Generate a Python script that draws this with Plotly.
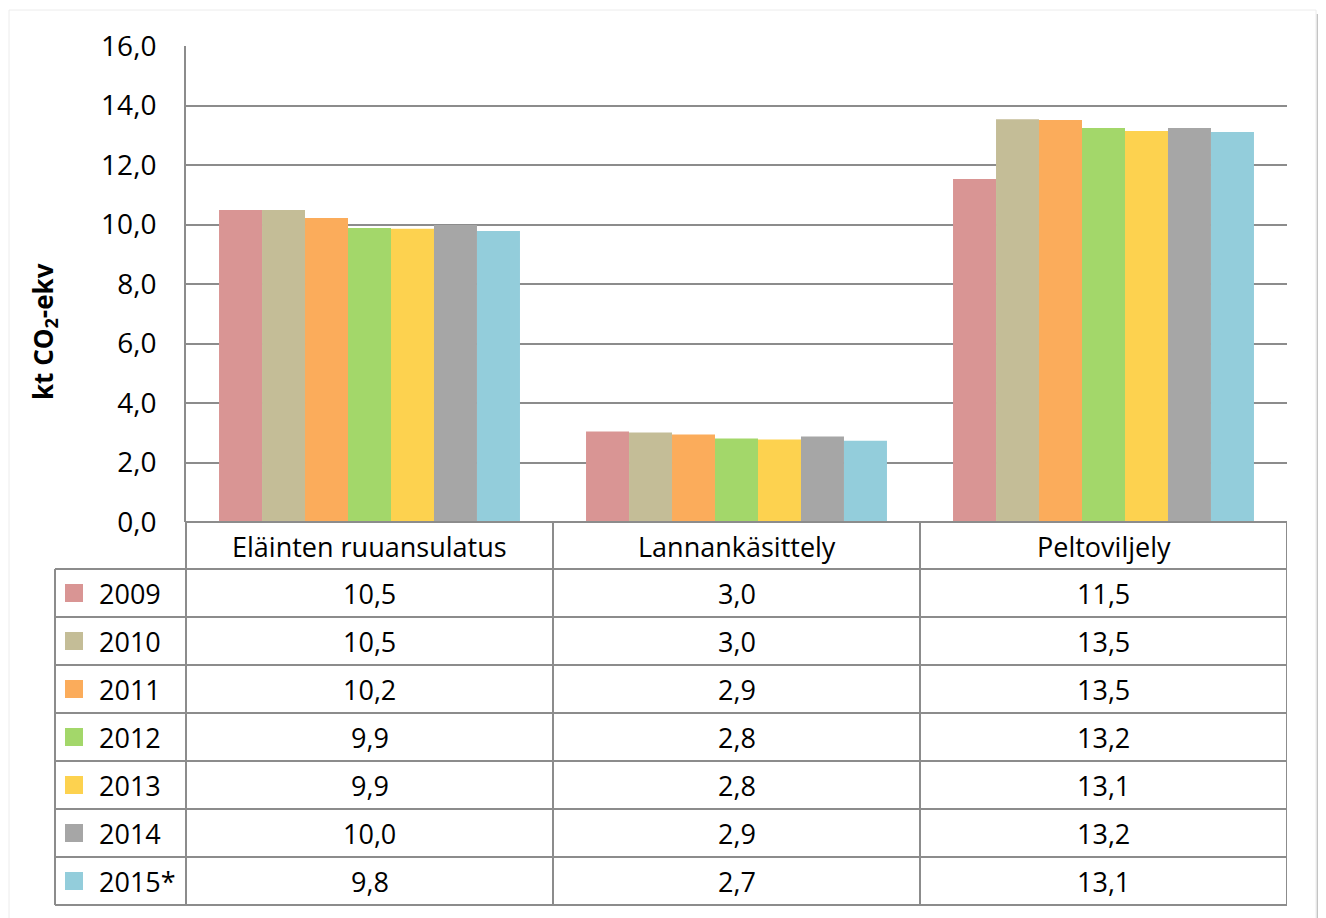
import plotly.graph_objects as go

categories = ["Eläinten ruuansulatus", "Lannankäsittely", "Peltoviljely"]
years = ["2009", "2010", "2011", "2012", "2013", "2014", "2015*"]
values = {
    "2009": [10.49, 3.04, 11.53],
    "2010": [10.49, 3.01, 13.54],
    "2011": [10.22, 2.94, 13.51],
    "2012": [9.88, 2.81, 13.24],
    "2013": [9.86, 2.77, 13.14],
    "2014": [9.98, 2.87, 13.24],
    "2015*": [9.78, 2.73, 13.11],
}
colors = ["#d99594", "#c4bd97", "#fbac5b", "#a3d76a", "#fdd24f", "#a6a6a6", "#93cddb"]
y_ticks = [0, 2, 4, 6, 8, 10, 12, 14, 16]

W, H = 1326, 918
OFF = 8                      # page body margin
PX_L, PX_R = 186, 1287       # plot area left/right (page pixels)
PX_T, PX_B = 46, 522         # plot area top/bottom (page pixels)
TAB_L = 55                   # table legend column left edge
ROW_H = 48
GRID = "#8c8c8c"
FONT = "Open Sans"
FS = 27

def px(x):
    return (x - OFF) / W

def py(y):
    return 1 - (y - OFF) / H

fig = go.Figure()
for yr, col in zip(years, colors):
    fig.add_trace(go.Bar(
        x=list(range(len(categories))), y=values[yr], name=yr,
        marker=dict(color=col, line=dict(width=0)),
        showlegend=False,
    ))

shapes = []
annotations = []

# outer chart border with soft shadow
shapes.append(dict(type="line", xref="paper", yref="paper",
                   x0=px(1319), x1=px(1319), y0=py(918), y1=py(14),
                   line=dict(color="#c4c4c4", width=5), layer="below"))
shapes.append(dict(type="rect", xref="paper", yref="paper",
                   x0=px(9), x1=px(1316), y0=py(930), y1=py(10),
                   line=dict(color="#ececec", width=1), fillcolor="white", layer="below"))

def hline(x0, x1, y, xref="paper"):
    shapes.append(dict(type="line", xref=xref, yref="paper", x0=x0, x1=x1,
                       y0=py(y), y1=py(y), line=dict(color=GRID, width=2)))

def vline(x, y0, y1, xref="paper"):
    shapes.append(dict(type="line", xref=xref, yref="paper", x0=x, x1=x,
                       y0=py(y0), y1=py(y1), line=dict(color=GRID, width=2)))

n_rows = len(years)
tab_top = PX_B
hdr_bot = PX_B + ROW_H - 1
tab_bot = hdr_bot + n_rows * ROW_H

# horizontal lines of table
hline(px(PX_L), px(PX_R), tab_top)
for i in range(n_rows + 1):
    hline(px(TAB_L), px(PX_R), hdr_bot + i * ROW_H)
# vertical lines
vline(px(TAB_L), hdr_bot, tab_bot)
vline(px(PX_L), tab_top, tab_bot)
for k in range(len(categories) + 1):
    vline(k - 0.5, tab_top, tab_bot, xref="x")

# header text
for k, c in enumerate(categories):
    annotations.append(dict(xref="x", yref="paper", x=k, y=py(tab_top + ROW_H / 2),
                            text=c, showarrow=False, xanchor="center", yanchor="middle",
                            font=dict(family=FONT, size=FS, color="black")))
# rows
for i, (yr, col) in enumerate(zip(years, colors)):
    yc = hdr_bot + i * ROW_H + ROW_H / 2
    shapes.append(dict(type="rect", xref="paper", yref="paper",
                       x0=px(65), x1=px(83), y0=py(yc + 9), y1=py(yc - 9),
                       fillcolor=col, line=dict(width=0)))
    annotations.append(dict(xref="paper", yref="paper", x=px(97), y=py(yc),
                            text=yr, showarrow=False, xanchor="left", yanchor="middle",
                            font=dict(family=FONT, size=FS, color="black")))
    for k in range(len(categories)):
        txt = f"{values[yr][k]:.1f}".replace(".", ",")
        annotations.append(dict(xref="x", yref="paper", x=k, y=py(yc),
                                text=txt, showarrow=False, xanchor="center", yanchor="middle",
                                font=dict(family=FONT, size=FS, color="black")))

# y axis title
annotations.append(dict(xref="paper", yref="paper", x=px(44), y=py(332),
                        text="<b>kt CO<sub>2</sub>-ekv</b>", textangle=-90, showarrow=False,
                        xanchor="center", yanchor="middle",
                        font=dict(family=FONT, size=26, color="black")))

fig.update_layout(
    width=W, height=H, autosize=False,
    margin=dict(l=0, r=0, t=0, b=0, pad=0),
    paper_bgcolor="white", plot_bgcolor="white",
    barmode="group", bargap=0.18, bargroupgap=0,
    separators=", ",
    shapes=shapes, annotations=annotations,
    xaxis=dict(domain=[px(PX_L), px(PX_R)], range=[-0.5, 2.5], showticklabels=False,
               showgrid=False, zeroline=False, showline=False, ticks="", automargin=False),
    yaxis=dict(domain=[py(PX_B), py(PX_T)], range=[0, 16], tickvals=y_ticks,
               tickformat=".1f", showgrid=True, gridcolor=GRID, gridwidth=2,
               zeroline=False, showline=True, linecolor=GRID, linewidth=2,
               ticks="", ticklabelstandoff=22, automargin=False,
               tickfont=dict(family=FONT, size=28, color="black")),
    font=dict(family=FONT),
)

fig.write_html("out.html")
